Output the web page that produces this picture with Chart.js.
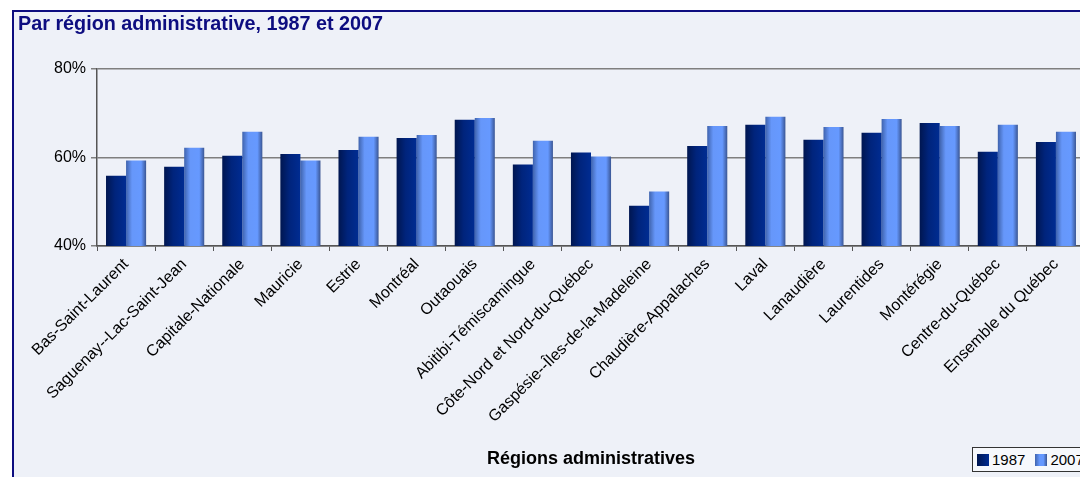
<!DOCTYPE html>
<html lang="fr">
<head>
<meta charset="utf-8">
<script src="https://cdn.jsdelivr.net/npm/chart.js@4"></script>
<style>
  html, body { margin: 0; padding: 0; background: #fff; overflow: hidden; }
  body { width: 1080px; height: 477px; position: relative; font-family: "Liberation Sans", Arial, sans-serif; }
  #frame {
    position: absolute; left: 12px; top: 10px; width: 1100px; height: 500px;
    border: 2px solid #0d0d80; background: #eef1f8;
  }
  #wrap { position: absolute; left: 0; top: 0; width: 1120px; height: 477px; }
  #legend {
    position: absolute; left: 972px; top: 447px; height: 23px; width: 130px;
    border: 1px solid #333; background: #f6f8fc;
    display: flex; align-items: center; font-size: 15px; color: #000;
  }
  #legend span.sw { display: inline-block; width: 12px; height: 12px; margin: 0 3px 0 4px; }
</style>
</head>
<body>
<div id="frame"></div>
<div id="wrap"><canvas id="chartRegions"></canvas></div>
<div id="legend"></div>
<script>
const regions = [
  "Bas-Saint-Laurent", "Saguenay--Lac-Saint-Jean", "Capitale-Nationale", "Mauricie",
  "Estrie", "Montréal", "Outaouais", "Abitibi-Témiscamingue",
  "Côte-Nord et Nord-du-Québec", "Gaspésie--Îles-de-la-Madeleine", "Chaudière-Appalaches",
  "Laval", "Lanaudière", "Laurentides", "Montérégie", "Centre-du-Québec", "Ensemble du Québec"
];
const values1987 = [55.9, 57.9, 60.4, 60.8, 61.7, 64.4, 68.5, 58.4, 61.1, 49.1, 62.6, 67.4, 64.0, 65.6, 67.8, 61.3, 63.5];
const values2007 = [59.3, 62.2, 65.8, 59.3, 64.7, 65.1, 68.9, 63.8, 60.2, 52.3, 67.1, 69.2, 66.9, 68.7, 67.1, 67.4, 65.8];
const yTicks = [40, 60, 80];

const CAT_PCT = 0.69;

// couleurs du dégradé horizontal de chaque série
const stops1987 = [[0, "#001650"], [0.45, "#00247c"], [1, "#002c92"]];
const stops2007 = [[0, "#3f63ad"], [0.3, "#6697fa"], [0.75, "#6699ff"], [1, "#3a5694"]];

function barGradient(context, stops) {
  const chart = context.chart;
  const xs = chart.scales.x;
  if (!xs || !chart.chartArea) return stops[1][1];
  const center = xs.getPixelForValue(context.dataIndex);
  const w = (xs.width / regions.length) * CAT_PCT / 2;
  const left = context.datasetIndex === 0 ? center - w : center;
  const g = chart.ctx.createLinearGradient(left, 0, left + w, 0);
  stops.forEach(s => g.addColorStop(s[0], s[1]));
  return g;
}

document.addEventListener("DOMContentLoaded", function () {
  const ctx = document.getElementById("chartRegions");

  const chart = new Chart(ctx, {
    type: "bar",
    data: {
      labels: regions,
      datasets: [{
        label: "1987",
        data: values1987,
        backgroundColor: c => barGradient(c, stops1987),
        borderWidth: 0
      }, {
        label: "2007",
        data: values2007,
        backgroundColor: c => barGradient(c, stops2007),
        borderWidth: 0
      }]
    },
    options: {
      responsive: true,
      maintainAspectRatio: false,
      animation: false,
      layout: { padding: { left: 18, right: 35, top: 0, bottom: 7 } },
      datasets: { bar: { barPercentage: 1, categoryPercentage: CAT_PCT } },
      plugins: {
        legend: { display: false },
        tooltip: { enabled: false },
        title: {
          display: true,
          text: "Par région administrative, 1987 et 2007",
          align: "start",
          color: "#0d0d80",
          font: { family: "Liberation Sans", size: 19.8, weight: "bold", lineHeight: 1.2 },
          padding: { top: 13, bottom: 32.2 }
        }
      },
      scales: {
        x: {
          grid: { display: true, drawOnChartArea: false, drawTicks: true, tickLength: 5, color: "#555", offset: true },
          border: { color: "#555", width: 1.5 },
          ticks: {
            minRotation: 45, maxRotation: 45, autoSkip: false, padding: 4,
            color: "#000", font: { family: "Liberation Sans", size: 16 }
          },
          title: {
            display: true,
            text: "Régions administratives",
            color: "#000",
            font: { family: "Liberation Sans", size: 18, weight: "bold" },
            padding: { top: 0, bottom: 0 }
          },
          afterFit: s => { s.height = 224; }
        },
        y: {
          min: 40, max: 80,
          afterBuildTicks: s => { s.ticks = yTicks.map(v => ({ value: v })); },
          grid: { color: "#7f7f7f", lineWidth: 1.5, tickLength: 6 },
          border: { color: "#555", width: 1.5 },
          ticks: {
            padding: 5, color: "#000",
            font: { family: "Liberation Sans", size: 16 },
            callback: v => v + "%"
          },
          afterFit: s => { s.width = 79; }
        }
      }
    }
  });

  // légende HTML dans la boîte en bas à droite
  const legend = document.getElementById("legend");
  const swatches = ["linear-gradient(to right,#001650,#002c92)", "linear-gradient(to right,#3f63ad,#6699ff 40%,#6699ff 70%,#3a5694)"];
  chart.data.datasets.forEach((ds, i) => {
    const sw = document.createElement("span");
    sw.className = "sw";
    sw.style.background = swatches[i];
    legend.appendChild(sw);
    const t = document.createElement("span");
    t.textContent = ds.label;
    t.style.marginRight = "6px";
    legend.appendChild(t);
  });
});
</script>
</body>
</html>
